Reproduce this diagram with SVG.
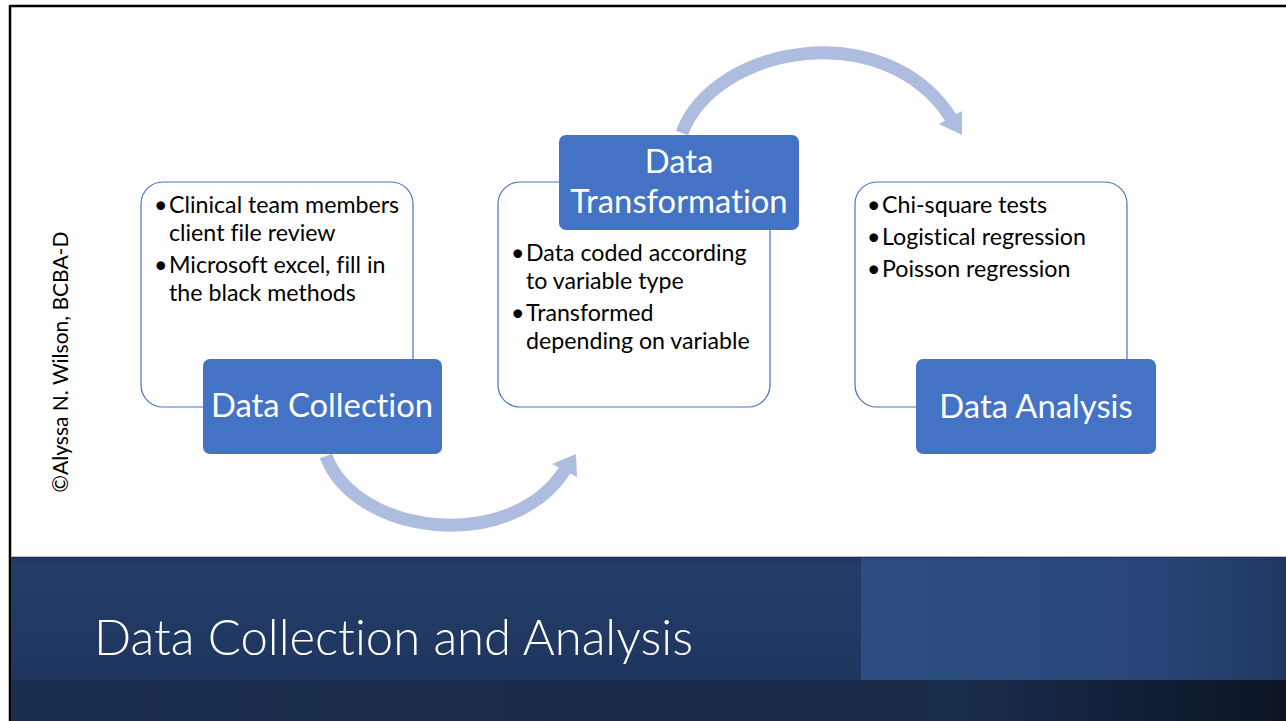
<svg xmlns="http://www.w3.org/2000/svg" width="1286" height="721" viewBox="0 0 1286 721">
<defs>
<style>
text{font-variant-ligatures:none}
.outline{fill:#fff;stroke:#4472c4;stroke-width:1.2}
.head{fill:#4472c4}
.bul{font-family:Lato,"Liberation Sans",sans-serif;font-size:23.2px;fill:#000}
.lbl{font-family:Lato,"Liberation Sans",sans-serif;font-size:32.8px;fill:#fff;text-anchor:middle}
.arc{fill:none;stroke:#aebcdf;stroke-width:13}
.ahead{fill:#aebcdf}
</style>
<linearGradient id="bandL" x1="0" y1="0" x2="0" y2="1">
<stop offset="0" stop-color="#1c3157"/>
<stop offset="0.05" stop-color="#233d68"/>
<stop offset="1" stop-color="#1d345b"/>
</linearGradient>
<linearGradient id="bandR" x1="0" y1="0" x2="1" y2="0">
<stop offset="0" stop-color="#2b4d82"/>
<stop offset="0.7" stop-color="#284679"/>
<stop offset="1" stop-color="#1f3760"/>
</linearGradient>
<linearGradient id="bandB" x1="0" y1="0" x2="1" y2="0">
<stop offset="0" stop-color="#1a2e50"/>
<stop offset="0.6" stop-color="#172a48"/>
<stop offset="0.75" stop-color="#182c4b"/>
<stop offset="1" stop-color="#0c1424"/>
</linearGradient>
</defs>
<rect x="0" y="0" width="1286" height="721" fill="#fff"/>
<line x1="10" y1="6" x2="1286" y2="6" stroke="#000" stroke-width="2.5"/>
<line x1="10" y1="5" x2="10" y2="721" stroke="#000" stroke-width="2.5"/>
<g id="band">
<rect x="11" y="556" width="1275" height="165" fill="url(#bandL)"/>
<rect x="861" y="558" width="425" height="122" fill="url(#bandR)"/>
<rect x="11" y="680" width="1275" height="41" fill="url(#bandB)"/>
<line x1="11" y1="556.5" x2="1286" y2="556.5" stroke="#b8bcc4" stroke-width="1"/>
<text x="94" y="655" font-family="Lato,'Liberation Sans',sans-serif" font-weight="300" font-size="49" fill="#fff">Data Collection and Analysis</text>
</g>
<text transform="translate(68,362) rotate(-90)" text-anchor="middle" font-family="Lato,'Liberation Sans',sans-serif" font-size="21" fill="#000">©Alyssa N. Wilson, BCBA-D</text>
<g id="connectors">
<path class="arc" d="M326,456 C355,535 510,555 565,470"/>
<polygon class="ahead" points="576,454 577,477 552,464"/>
<path class="arc" d="M682,133 C715,45 885,15 951,118"/>
<polygon class="ahead" points="962,135 962,111 939,124"/>
</g>
<g id="node-collection">
<rect class="outline" x="141" y="182" width="272" height="225" rx="22"/>
<text class="bul" x="154" y="213">•</text><text class="bul" x="169" y="213">Clinical team members</text>
<text class="bul" x="169" y="241">client file review</text>
<text class="bul" x="154" y="273">•</text><text class="bul" x="169" y="273">Microsoft excel, fill in</text>
<text class="bul" x="169" y="301">the black methods</text>
<rect class="head" x="203" y="359" width="239" height="95" rx="7"/>
<text class="lbl" x="322" y="417">Data Collection</text>
</g>
<g id="node-transformation">
<rect class="outline" x="498" y="182" width="272" height="225" rx="22"/>
<text class="bul" x="511" y="261">•</text><text class="bul" x="526" y="261">Data coded according</text>
<text class="bul" x="526" y="289">to variable type</text>
<text class="bul" x="511" y="321">•</text><text class="bul" x="526" y="321">Transformed</text>
<text class="bul" x="526" y="349">depending on variable</text>
<rect class="head" x="559" y="135" width="240" height="95" rx="7"/>
<text class="lbl" x="679" y="173">Data</text>
<text class="lbl" x="679" y="213">Transformation</text>
</g>
<g id="node-analysis">
<rect class="outline" x="855" y="182" width="272" height="225" rx="22"/>
<text class="bul" x="867" y="213">•</text><text class="bul" x="882" y="213">Chi-square tests</text>
<text class="bul" x="867" y="245">•</text><text class="bul" x="882" y="245">Logistical regression</text>
<text class="bul" x="867" y="277">•</text><text class="bul" x="882" y="277">Poisson regression</text>
<rect class="head" x="916" y="359" width="240" height="95" rx="7"/>
<text class="lbl" x="1036" y="418">Data Analysis</text>
</g>
</svg>
